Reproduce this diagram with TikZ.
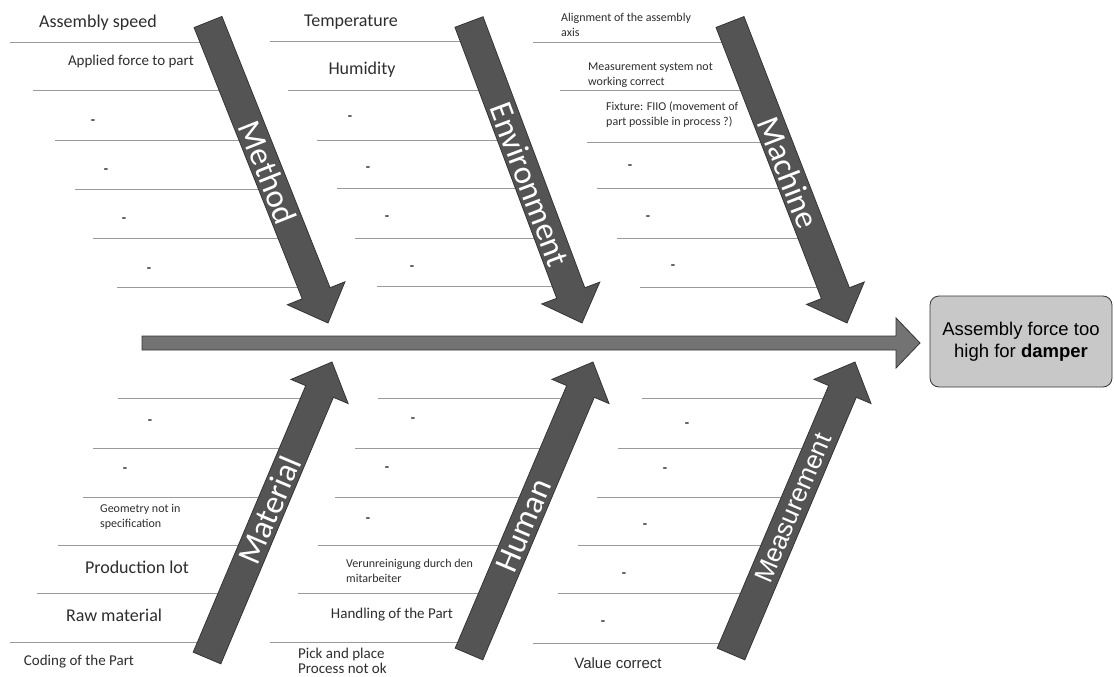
\documentclass[tikz,border=0pt]{standalone}
\usepackage{fontspec}
\setmainfont{Carlito}
\newfontfamily\arialf{Liberation Sans}
\usetikzlibrary{calc}
\definecolor{txt}{HTML}{2E2E2E}
\definecolor{rib}{HTML}{9A9A9A}
\definecolor{bonefill}{HTML}{545454}
\definecolor{boneedge}{HTML}{353535}
\definecolor{spinefill}{HTML}{737373}
\definecolor{effectfill}{HTML}{C8C8C8}
\tikzset{
  ribline/.style={draw=rib, line width=0.8pt},
  bonestyle/.style={fill=bonefill, draw=boneedge, line width=0.8pt, line join=miter},
  spinestyle/.style={fill=spinefill, draw=boneedge, line width=0.8pt},
  bigtxt/.style={text=txt, inner sep=0pt, font=\fontsize{18}{20}\selectfont},
  medtxt/.style={text=txt, inner sep=0pt, font=\fontsize{15}{15}\selectfont, align=left},
  smalltxt/.style={text=txt, inner sep=0pt, font=\fontsize{12}{15}\selectfont, align=left},
  dashtxt/.style={text=txt, inner sep=0pt, font=\fontsize{14}{14}\selectfont\bfseries},
  arialtxt/.style={text=txt, inner sep=0pt, font=\arialf\fontsize{15}{15}\selectfont},
  bonelabel/.style={text=white, inner sep=0pt, font=\fontsize{33}{33}\selectfont},
  bonelabelarial/.style={text=white, inner sep=0pt, font=\arialf\fontsize{26}{26}\selectfont},
  effectbox/.style={fill=effectfill, draw=boneedge, line width=0.8pt, rounded corners=9pt,
    minimum width=182pt, minimum height=91pt, align=center, text=black,
    font=\arialf\fontsize{18.5}{22}\selectfont},
}
% #1 start, #2 tip, #3 half shaft, #4 head length, #5 half head, #6 style
\newcommand\fbbone[6]{%
  \coordinate (#1h) at ($(#2)!#4!(#1)$);
  \path[#6] ($(#1)!#3!90:(#2)$) -- ($(#1h)!#3!90:(#2)$) -- ($(#1h)!#5!90:(#2)$) -- (#2)
     -- ($(#1h)!#5!-90:(#2)$) -- ($(#1h)!#3!-90:(#2)$) -- ($(#1)!#3!-90:(#2)$) -- cycle;
}
\begin{document}
\begin{tikzpicture}[x=1pt,y=-1pt]
\useasboundingbox[fill=white] (0,0) rectangle (1114,677);

% rib lines
\foreach \y/\a/\b in {42/10/216, 90/33/235, 140/55/255, 189/75/275, 238/93/294, 287/117/314,
                      41/270/476, 90/288/495, 140/317/513, 188/337/531, 238/355/550, 286/377/568,
                      42/533/738, 90/560/756, 142/587/777, 188/597/795, 238/617/814, 287/640/833,
                      398/118/317, 448/93/296, 497/83/275, 545/58/255, 593/37/234, 642/10/214,
                      398/378/578, 448/355/556, 497/335/536, 545/318/515, 593/298/495, 642/270/474,
                      398/642/840, 448/618/818, 497/597/798, 545/578/777, 593/558/757, 643/533/736}
  \draw[ribline] (\a,\y) -- (\b,\y);

% bones
\coordinate (mA) at (208,22);  \coordinate (mB) at (328,323);
\coordinate (eA) at (469,22);  \coordinate (eB) at (582,323);
\coordinate (cA) at (730,22);  \coordinate (cB) at (847,323);
\coordinate (tA) at (207,658); \coordinate (tB) at (332,362);
\coordinate (hA) at (469,654); \coordinate (hB) at (593,362);
\coordinate (sA) at (731,654); \coordinate (sB) at (855,362);
\coordinate (spA) at (142,343); \coordinate (spB) at (920,343);

\fbbone{spA}{spB}{7pt}{24pt}{25pt}{spinestyle}
\fbbone{mA}{mB}{15pt}{32pt}{31pt}{bonestyle}
\fbbone{eA}{eB}{15pt}{32pt}{31pt}{bonestyle}
\fbbone{cA}{cB}{15pt}{32pt}{31pt}{bonestyle}
\fbbone{tA}{tB}{15pt}{32pt}{31pt}{bonestyle}
\fbbone{hA}{hB}{15pt}{32pt}{31pt}{bonestyle}
\fbbone{sA}{sB}{15pt}{32pt}{31pt}{bonestyle}

\path (mA) -- (mB) node[bonelabel, pos=0.5, sloped] (lmethod) {Method};
\path (eA) -- (eB) node[bonelabel, pos=0.54, sloped] (lenv) {Environment};
\path (cA) -- (cB) node[bonelabel, pos=0.5, sloped] (lmach) {Machine};
\path (tA) -- (tB) node[bonelabel, pos=0.5, sloped] (lmat) {Material};
\path (hA) -- (hB) node[bonelabel, pos=0.44, sloped] (lhum) {Human};
\path (sA) -- (sB) node[bonelabelarial, pos=0.5, sloped] (lmeas) {Measurement};

% effect
\node[effectbox] (effect) at (1021,341.5) {Assembly force too\\high for \textbf{damper}};

% Method texts
\node[bigtxt] (asmspeed) at (98,23) {Assembly speed};
\node[medtxt] (applied) at (131,62) {Applied force to part};
\foreach \x/\y [count=\i] in {93/122,106/171,124/220,149/270}
  \node[dashtxt] (dm\i) at (\x,\y) {-};

% Environment texts
\node[bigtxt] (temp) at (351,22) {Temperature};
\node[bigtxt] (humid) at (362,70) {Humidity};
\foreach \x/\y [count=\i] in {350/118,368/169,387/218,412/268}
  \node[dashtxt] (de\i) at (\x,\y) {-};

% Machine texts
\node[smalltxt, anchor=west] (align) at (561,25) {Alignment of the assembly\\axis};
\node[smalltxt, anchor=west] (meassys) at (588,75) {Measurement system not\\working correct};
\node[smalltxt, anchor=west] (fixture) at (606,115) {Fixture: FIIO (movement of\\part possible in process ?)};
\foreach \x/\y [count=\i] in {630/167,648/218,673/267}
  \node[dashtxt] (dc\i) at (\x,\y) {-};

% Material texts
\foreach \x/\y [count=\i] in {150/422,125/470}
  \node[dashtxt] (dt\i) at (\x,\y) {-};
\node[smalltxt, anchor=west] (geom) at (100,517) {Geometry not in\\specification};
\node[bigtxt] (prodlot) at (137,567) {Production lot};
\node[bigtxt] (raw) at (114,615) {Raw material};
\node[medtxt] (coding) at (79,662) {Coding of the Part};

% Human texts
\foreach \x/\y [count=\i] in {413/420,387/469,368/520}
  \node[dashtxt] (dh\i) at (\x,\y) {-};
\node[smalltxt, anchor=west] (verun) at (346,571) {Verunreinigung durch den\\mitarbeiter};
\node[medtxt] (handling) at (392,615) {Handling of the Part};
\node[medtxt, anchor=west] (pick) at (298,661) {Pick and place\\Process not ok};

% Measurement texts
\foreach \x/\y [count=\i] in {687/425,665/470,645/526,624/575,603/623}
  \node[dashtxt] (ds\i) at (\x,\y) {-};
\node[arialtxt] (value) at (618,663) {Value correct};
\end{tikzpicture}
\end{document}
